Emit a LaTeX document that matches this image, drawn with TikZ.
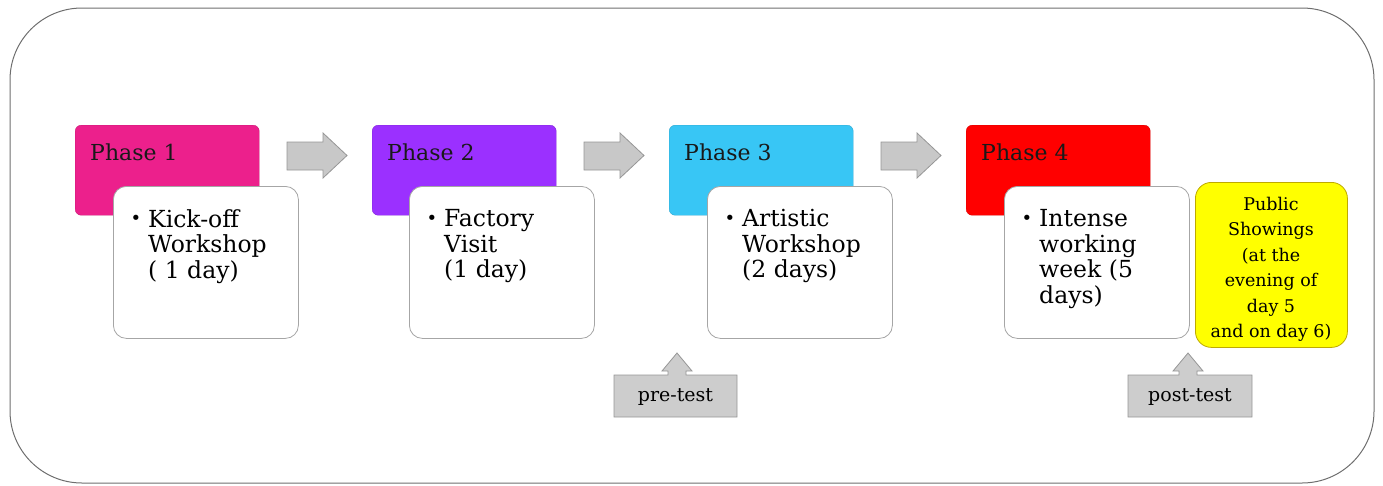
\documentclass[tikz,border=0pt]{standalone}
\usepackage{fontspec}
\setmainfont{DejaVu Serif}
\definecolor{pinkph}{RGB}{236,32,140}
\definecolor{purpleph}{RGB}{155,48,255}
\definecolor{cyanph}{RGB}{56,198,245}
\definecolor{redph}{RGB}{255,0,0}
\definecolor{arrowgray}{RGB}{200,200,200}
\definecolor{arrowborder}{RGB}{150,150,150}
\definecolor{frameline}{RGB}{110,110,110}
\definecolor{yellowbox}{RGB}{255,255,0}
\definecolor{yellowborder}{RGB}{190,170,0}
\tikzset{
  phasebox/.style={rounded corners=6pt, minimum width=184pt, minimum height=90pt, anchor=north west, inner sep=0pt},
  whitebox/.style={draw=gray!70, fill=white, rounded corners=13pt, minimum width=185pt, minimum height=152pt, anchor=north west, inner sep=0pt, line width=0.8pt},
  titletext/.style={anchor=base west, inner sep=0pt, font=\fontsize{22}{24}\selectfont, text=black!90},
  bodytext/.style={anchor=north west, inner sep=0pt, align=left, font=\fontsize{23.5}{25.5}\selectfont},
  bullettext/.style={anchor=base, inner sep=0pt, font=\fontsize{18}{20}\selectfont},
  blockarrow/.style={fill=arrowgray, draw=arrowborder, line width=0.8pt, line join=miter},
  calloutbox/.style={fill=arrowgray!90!white, draw=arrowborder, line width=0.8pt},
  callouttext/.style={inner sep=0pt, font=\fontsize{19}{21}\selectfont},
}
\begin{document}
\begin{tikzpicture}[x=1pt,y=-1pt]
\useasboundingbox (0,0) rectangle (1383,485);
\draw[frameline, line width=1pt, rounded corners=72pt] (10,8) rectangle (1374,483);

% block arrows
\foreach \dx in {0,297,594}{
  \draw[blockarrow] (287+\dx,142) -- (323+\dx,142) -- (323+\dx,133) -- (347+\dx,155.5)
     -- (323+\dx,178) -- (323+\dx,170) -- (287+\dx,170) -- cycle;
}

% phase 1
\node[phasebox, fill=pinkph, draw=pinkph!85!black] (p1) at (75,125) {};
\node[titletext] (t1) at (90,160) {Phase 1};
\node[whitebox] (w1) at (113,186) {};
\node[bullettext] (b1) at (136,224) {•};
\node[bodytext] (x1) at (148,209) {Kick-off\\Workshop\\( 1 day)};

% phase 2
\node[phasebox, fill=purpleph, draw=purpleph!85!black] (p2) at (372,125) {};
\node[titletext] (t2) at (387,160) {Phase 2};
\node[whitebox] (w2) at (409,186) {};
\node[bullettext] (b2) at (432,224) {•};
\node[bodytext] (x2) at (444,209.5) {Factory\\Visit\\(1 day)};

% phase 3
\node[phasebox, fill=cyanph, draw=cyanph!85!black] (p3) at (669,125) {};
\node[titletext] (t3) at (684,160) {Phase 3};
\node[whitebox] (w3) at (707,186) {};
\node[bullettext] (b3) at (730,224) {•};
\node[bodytext] (x3) at (742,209.5) {Artistic\\Workshop\\(2 days)};

% phase 4
\node[phasebox, fill=redph, draw=redph!85!black] (p4) at (966,125) {};
\node[titletext] (t4) at (981,160) {Phase 4};
\node[whitebox] (w4) at (1004,186) {};
\node[bullettext] (b4) at (1027,224) {•};
\node[bodytext] (x4) at (1039,209.5) {Intense\\working\\week (5\\days)};

% public showings
\node[fill=yellowbox, draw=yellowborder, line width=0.8pt, rounded corners=16pt, minimum width=152pt, minimum height=165pt, anchor=north west, inner sep=0pt] (ps) at (1195,182) {};
\node[anchor=north, inner sep=0pt, align=center, font=\fontsize{17.5}{25.4}\selectfont] (pst) at (1271,197) {Public\\Showings\\(at the\\evening of\\day 5\\and on day 6)};

% pre-test callout
\draw[calloutbox] (614,375) -- (668,375) -- (668,371) -- (662,371) -- (677,353) -- (692,371) -- (686,371) -- (686,375)
   -- (737,375) -- (737,417) -- (614,417) -- cycle;
\node[callouttext] (pre) at (675.5,397) {pre-test};

% post-test callout
\draw[calloutbox] (1128,375) -- (1179,375) -- (1179,371) -- (1173,371) -- (1188,353) -- (1203,371) -- (1197,371) -- (1197,375)
   -- (1252,375) -- (1252,417) -- (1128,417) -- cycle;
\node[callouttext] (post) at (1190,397) {post-test};
\end{tikzpicture}
\end{document}
